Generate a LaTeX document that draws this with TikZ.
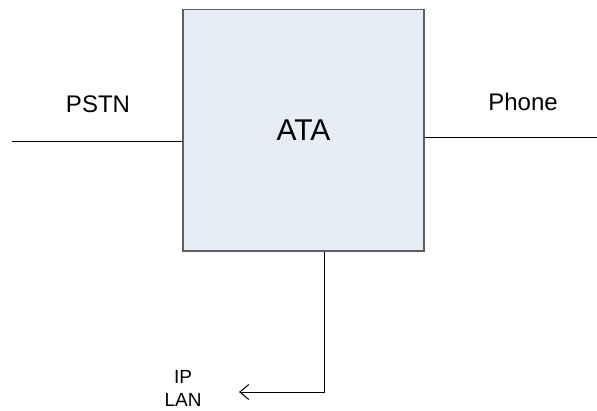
\documentclass[tikz,border=0pt]{standalone}
\usepackage{fontspec}
\setmainfont{Liberation Sans}
\usetikzlibrary{arrows.meta}
\definecolor{atafill}{RGB}{230, 237, 247}
\definecolor{ataborder}{RGB}{95, 95, 95}

\begin{document}
\begin{tikzpicture}[
    x=1pt, y=-1pt,
    every node/.style={inner sep=0pt},
    wire/.style={line width=1pt, black},
    labeltext/.style={font=\fontsize{24}{28}\selectfont}
]
\useasboundingbox (0,0) rectangle (597,410);
\node[draw=ataborder, fill=atafill, line width=1.5pt,
    minimum width=241pt, minimum height=241.5pt,
    font=\fontsize{30}{36}\selectfont] (ata) at (303.5,130.25) {ATA};
\coordinate (pstnend) at (12,141);
\coordinate (phoneend) at (597,137);
\coordinate (lanend) at (239,392);
\draw[wire] (pstnend) -- (ata.west |- pstnend);
\draw[wire] (ata.east |- phoneend) -- (phoneend);
\draw[wire, -{Straight Barb[length=9pt, width=15pt]}] ([xshift=20.5pt]ata.south) |- (lanend);
\node[labeltext, anchor=base] (pstn) at (98,112) {PSTN};
\node[labeltext, anchor=base] (phone) at (523,110) {Phone};
\node[font=\fontsize{19}{22.5}\selectfont, align=center, anchor=north] (lan) at (183,370.5) {IP\\LAN};
\end{tikzpicture}
\end{document}
